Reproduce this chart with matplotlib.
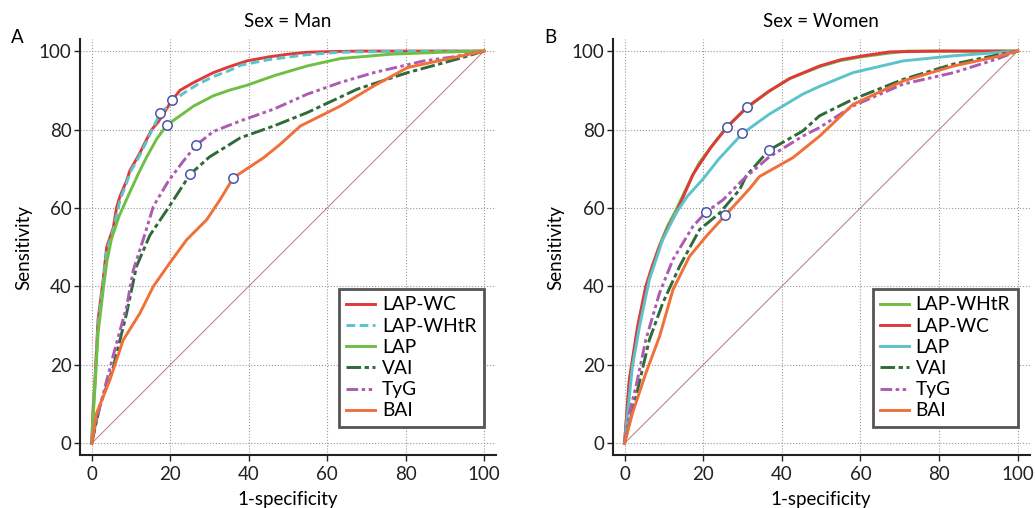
import matplotlib
matplotlib.use("Agg")
import matplotlib.pyplot as plt

plt.rcParams['font.family'] = ['Lato', 'DejaVu Sans']

# ---- Sex = Man ----
man_lapwc_x = [0, 0.3, 0.8, 1.6, 2.9, 3.8, 5.5, 6.3, 7.2, 8.9, 9.7, 12, 14, 15.3, 17, 20.5, 22.5, 26, 31, 35, 39.6, 45, 50, 55, 62, 69, 80, 100]
man_lapwc_y = [0, 8, 16, 31.5, 41.7, 50, 55, 60, 63, 67, 69.5, 73.5, 77.5, 80, 82, 87.5, 90, 92, 94.5, 96, 97.5, 98.5, 99.2, 99.7, 99.9, 100, 100, 100]
man_lapwhtr_x = [0, 0.3, 0.8, 1.6, 2.9, 3.8, 5.5, 7.2, 8.9, 10, 12, 14, 17.4, 20, 23, 27, 31, 35, 38, 45, 55, 63, 75, 85, 100]
man_lapwhtr_y = [0, 7, 15, 30, 41, 49, 54.5, 62, 66.5, 69.5, 73, 77, 84.1, 86.5, 89, 91.5, 93.5, 95, 96.4, 97.8, 99.1, 99.7, 99.9, 100, 100]
man_lap_x = [0, 0.3, 0.8, 1.6, 2.9, 3.8, 5, 7, 9.7, 12, 14, 16.5, 19.1, 22.5, 26, 31, 35, 39.6, 46.4, 54.9, 63.4, 76.2, 89, 100]
man_lap_y = [0, 6, 14, 28, 39, 46, 52, 58, 64, 69, 73, 77.5, 81.1, 83.5, 86, 88.6, 90, 91.3, 93.7, 96.2, 98.1, 99.2, 99.7, 100]
man_vai_x = [0, 2, 5.5, 8.9, 11.4, 14.8, 19.5, 25.1, 30, 37.9, 46.4, 54.9, 67.7, 80.5, 93.3, 100]
man_vai_y = [0, 9.3, 19.5, 33.2, 45.1, 53, 60, 68.6, 73, 77.9, 80.9, 84.3, 90.3, 94.5, 98, 100]
man_tyg_x = [0, 0.8, 2, 3.8, 6.3, 8.9, 10.6, 13.1, 15.7, 19.5, 23, 26.6, 31, 37.9, 46.4, 54.9, 63.4, 71.9, 84.7, 92, 100]
man_tyg_y = [0, 4.2, 9, 16, 25.5, 34.9, 44.2, 51.9, 60.4, 66.8, 71.5, 76, 79.5, 82.2, 85.2, 89, 92, 94.5, 97.5, 98.5, 100]
man_bai_x = [0, 1.2, 4.6, 8, 12.3, 15.7, 19.9, 24.2, 29.3, 32.7, 36.1, 43.8, 48, 53.2, 63.4, 71.9, 80.5, 90.7, 100]
man_bai_y = [0, 7.6, 16.1, 26.3, 33.2, 40, 46, 51.9, 57, 62.1, 67.7, 72.8, 76.2, 80.9, 86, 91.1, 95.8, 98, 100]
# cut-off points (x, y)
man_cut = {'LAP-WC': (20.5, 87.5), 'LAP-WHtR': (17.4, 84.1), 'LAP': (19.1, 81.1),
           'VAI': (25.1, 68.6), 'TyG': (26.6, 76), 'BAI': (36.1, 67.7)}

# ---- Sex = Women ----
wom_lapwhtr_x = [0, 1.2, 3.3, 5.4, 7, 8.9, 11, 13.1, 15, 17.4, 19, 22, 26, 31.1, 36.8, 42, 49.6, 55, 60.7, 67.5, 72, 80, 100]
wom_lapwhtr_y = [0, 15.5, 29, 39.5, 45, 50.5, 55.5, 59.5, 63.5, 68.5, 71.5, 75.5, 80.7, 85.5, 89.8, 93, 96, 97.6, 98.6, 99.5, 100, 100, 100]
wom_lapwc_x = [0, 1.2, 3.3, 5.4, 7, 8.9, 11, 13.1, 15, 17.4, 19, 22, 26, 31.1, 36.8, 42, 49.6, 55, 60.7, 67.5, 80, 100]
wom_lapwc_y = [0, 16.1, 29.7, 40, 45, 50.2, 55, 58.7, 63, 68.5, 71, 75.5, 80.5, 85.7, 89.8, 93, 96.2, 97.8, 98.8, 99.8, 100, 100]
wom_lap_x = [0, 0.8, 2, 3.8, 6.3, 9.7, 13.1, 16, 19.9, 24, 30, 36.8, 45.3, 49.6, 58.1, 70.9, 83.7, 100]
wom_lap_y = [0, 7.6, 19.5, 29.7, 41.7, 51.9, 58.7, 63, 67.3, 72.5, 79, 83.9, 89, 91, 94.5, 97.5, 98.8, 100]
wom_vai_x = [0, 2.9, 6.3, 9.7, 14, 19.1, 24.2, 29.3, 30.9, 36.7, 45.3, 49.6, 58.1, 70.9, 83.7, 94.8, 100]
wom_vai_y = [0, 11.8, 26.3, 35.7, 45.1, 54.5, 58.7, 64.7, 68.1, 74.7, 79.6, 83.5, 87.7, 92.8, 96.7, 99, 100]
wom_tyg_x = [0, 1.2, 2.9, 5.4, 8.9, 12.3, 17.4, 20.8, 25.1, 30.2, 36.8, 45.3, 49.6, 58.1, 70.9, 83.7, 94.8, 100]
wom_tyg_y = [0, 7.6, 14.4, 26.3, 38.3, 46.8, 55.3, 59, 62.1, 67.3, 73, 78.3, 80.5, 86, 91.6, 94.5, 98, 100]
wom_bai_x = [0, 2, 5.4, 8.9, 12.3, 16.5, 20.8, 25.6, 31.9, 34.3, 42.8, 49.6, 58.1, 70.9, 83.7, 94.8, 100]
wom_bai_y = [0, 7.6, 17.8, 27.2, 39.1, 47.6, 52.8, 58.1, 65, 68, 72.8, 78.3, 86.4, 92.4, 96.2, 98.6, 100]
wom_cut = {'LAP-WHtR': (26, 80.7), 'LAP-WC': (31.1, 85.7), 'LAP': (30, 79),
           'VAI': (36.7, 74.7), 'TyG': (20.8, 59), 'BAI': (25.6, 58.1)}

RED = '#e0393a'
CYAN = '#5cc3cb'
LGREEN = '#6fbf44'
DGREEN = '#2f6b38'
PURPLE = '#ad5bb0'
ORANGE = '#f0703a'
dashdot = (0, (5, 1.2, 1.5, 1.2))
dashdotdot = (0, (4, 1.2, 1.2, 1.2, 1.2, 1.2))

man_series = [
    ('LAP-WC', man_lapwc_x, man_lapwc_y, RED, '-'),
    ('LAP-WHtR', man_lapwhtr_x, man_lapwhtr_y, CYAN, (0, (3, 1.5))),
    ('LAP', man_lap_x, man_lap_y, LGREEN, '-'),
    ('VAI', man_vai_x, man_vai_y, DGREEN, dashdot),
    ('TyG', man_tyg_x, man_tyg_y, PURPLE, dashdotdot),
    ('BAI', man_bai_x, man_bai_y, ORANGE, '-'),
]
wom_series = [
    ('LAP-WHtR', wom_lapwhtr_x, wom_lapwhtr_y, LGREEN, '-'),
    ('LAP-WC', wom_lapwc_x, wom_lapwc_y, RED, '-'),
    ('LAP', wom_lap_x, wom_lap_y, CYAN, '-'),
    ('VAI', wom_vai_x, wom_vai_y, DGREEN, dashdot),
    ('TyG', wom_tyg_x, wom_tyg_y, PURPLE, dashdotdot),
    ('BAI', wom_bai_x, wom_bai_y, ORANGE, '-'),
]

fig = plt.figure(figsize=(10.35, 5.08), dpi=100)
ax1 = fig.add_axes([0.0773, 0.1043, 0.4017, 0.8183])
ax2 = fig.add_axes([0.592, 0.1043, 0.4027, 0.8183])

panels = [(ax1, man_series, man_cut, 'Sex = Man', 'A'),
          (ax2, wom_series, wom_cut, 'Sex = Women', 'B')]

for ax, series, cuts, title, letter in panels:
    ax.plot([0, 100], [0, 100], color='#b57a7a', lw=0.7, zorder=2)
    for name, xs, ys, col, ls in series:
        ax.plot(xs, ys, color=col, ls=ls, lw=2.1, label=name, zorder=3)
    for name, xs, ys, col, ls in series:
        cx, cy = cuts[name]
        ax.plot(cx, cy, 'o', ms=6.8, mfc='white', mec='#4a56a6', mew=1.1, zorder=5)
    ax.set_xlim(-3, 103)
    ax.set_ylim(-3, 103)
    ax.set_xticks([0, 20, 40, 60, 80, 100])
    ax.set_yticks([0, 20, 40, 60, 80, 100])
    ax.grid(True, ls=':', color='#999999', lw=0.8)
    ax.set_axisbelow(True)
    for s in ['top', 'right']:
        ax.spines[s].set_visible(False)
    for s in ['left', 'bottom']:
        ax.spines[s].set_linewidth(1.5)
        ax.spines[s].set_color('#222222')
    ax.tick_params(axis='x', labelsize=13.5, length=4, width=1, colors='#222222', pad=4)
    ax.tick_params(axis='y', labelsize=13.5, length=4, width=1, colors='#222222', pad=2)
    ax.set_xlabel('1-specificity', fontsize=13.5, labelpad=6)
    ax.set_ylabel('Sensitivity', fontsize=13.5, labelpad=5)
    ax.set_title(title, fontsize=13.5, pad=9)
    ax.text(-0.165, 0.99, letter, transform=ax.transAxes, fontsize=13.5, va='baseline')
    leg = ax.legend(loc='lower right', bbox_to_anchor=(0.972, 0.067), borderaxespad=0,
                    fontsize=13.8, fancybox=False, framealpha=1, handlelength=1.5,
                    labelspacing=0.22, handletextpad=0.35, borderpad=0.4)
    leg.get_frame().set_edgecolor('#555555')
    leg.get_frame().set_linewidth(2)

fig.savefig('out.png', dpi=100)
